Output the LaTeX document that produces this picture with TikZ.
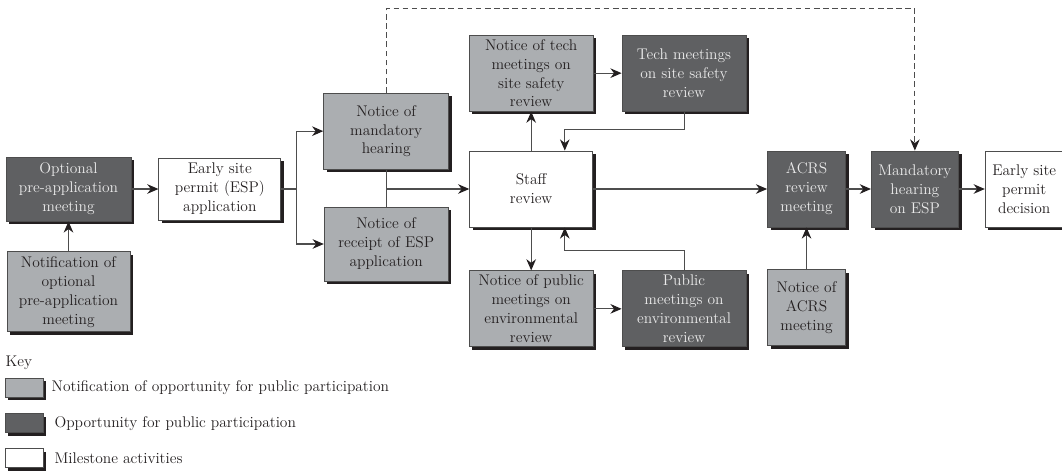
\documentclass[tikz,border=0pt]{standalone}
\usepackage{tikz}
\usepackage{xcolor}
\usetikzlibrary{arrows.meta,positioning,shadows}
\definecolor{nrcdark}{RGB}{95,96,98}
\definecolor{nrclight}{RGB}{171,174,177}
\definecolor{nrcline}{RGB}{77,77,77}
\definecolor{nrcshadow}{RGB}{35,31,32}
\newcommand{\boxfont}{\fontsize{11}{13.5}\selectfont}

\begin{document}
\begin{tikzpicture}[node distance=0.7cm,
        stage/.style={rectangle,draw=nrcline,line width=0.6pt,minimum width=3.1cm,minimum height=1.9cm,
          align=center,inner sep=1pt,font=\boxfont,text=nrcshadow,
          drop shadow={opacity=1,fill=nrcshadow,shadow xshift=0.08cm,shadow yshift=-0.08cm}},
        notice/.style={stage,fill=nrclight},
        meet/.style={stage,fill=nrcdark,text=white!92!black},
        milestone/.style={stage,fill=white},
        keybox/.style={minimum width=0.95cm,minimum height=0.475cm},
        keytext/.style={font=\boxfont,text=nrcshadow,inner sep=0pt},
        link/.style={draw=nrcline,line width=0.75pt},
        arrow/.style={link,-{Stealth[length=2.8mm,width=2.4mm,color=nrcshadow]}}]
        \useasboundingbox (0,0) rectangle (26.55,-11.775);
        \node[meet,minimum width=3.125cm,minimum height=1.6cm] (opt) at (1.7125,-4.725) {Optional\\pre-application\\meeting};
        \node[notice,minimum width=3.075cm,minimum height=2cm,below=0.75cm of opt] (notifopt) {Notification of\\optional\\pre-application\\meeting};
        \node[milestone,minimum width=3.05cm,minimum height=1.55cm,right=0.675cm of opt] (esp) {Early site\\permit (ESP)\\application};
        \node[notice,minimum width=3.125cm,above right=-0.3cm and 1.05cm of esp] (mandnote) {Notice of\\mandatory\\hearing};
        \node[notice,minimum height=1.85cm,below=0.925cm of mandnote] (receipt) {Notice of\\receipt of ESP\\application};
        \node[milestone,minimum width=3.075cm,right=4.7cm of esp] (staff) {Staff\\review};
        \node[notice,above=0.975cm of staff] (notetech) {Notice of tech\\meetings on\\site safety\\review};
        \node[meet,right=0.7cm of notetech] (techmeet) {Tech meetings\\on site safety\\review};
        \node[notice,below=1.075cm of staff] (notepub) {Notice of public\\meetings on\\environmental\\review};
        \node[meet,right=0.7cm of notepub] (pubmeet) {Public\\meetings on\\environmental\\review};
        \node[meet,minimum width=1.95cm,right=4.35cm of staff] (acrs) {ACRS\\review\\meeting};
        \node[meet,minimum width=2.175cm,right=0.625cm of acrs] (mandhear) {Mandatory\\hearing\\on ESP};
        \node[milestone,minimum width=1.95cm,right=0.65cm of mandhear] (decision) {Early site\\permit\\decision};
        \node[notice,minimum width=1.95cm,below=1.05cm of acrs] (noteacrs) {Notice of\\ACRS\\meeting};
        \coordinate[right=0.375cm of esp] (split);
        \draw[arrow] (notifopt) -- (opt);
        \draw[arrow] (opt) -- (esp);
        \draw[link] (esp) -- (split);
        \draw[arrow] (split) |- (mandnote);
        \draw[arrow] (split) |- (receipt);
        \draw[link] (mandnote) -- (receipt);
        \draw[arrow] (mandnote.south |- staff) -- (staff);
        \draw[arrow,dash pattern=on 4pt off 2.5pt] (mandnote.north) -- ++(0,2.1) -| (mandhear.north);
        \draw[arrow] (staff) -- (notetech);
        \draw[arrow] (notetech) -- (techmeet);
        \draw[arrow] (techmeet.south) -- ++(0,-0.45) -| ([xshift=0.84cm]staff.north);
        \draw[arrow] (staff) -- (notepub);
        \draw[arrow] (notepub) -- (pubmeet);
        \draw[arrow] (pubmeet.north) -- ++(0,0.5) -| ([xshift=0.84cm]staff.south);
        \draw[arrow] (staff) -- (acrs);
        \draw[arrow] (acrs) -- (mandhear);
        \draw[arrow] (mandhear) -- (decision);
        \draw[arrow] (noteacrs) -- (acrs);
        \node[notice,keybox] (key1) at (0.6,-9.6875) {};
        \node[meet,keybox,below=0.4cm of key1] (key2) {};
        \node[milestone,keybox,below=0.375cm of key2] (key3) {};
        \node[keytext,above right=0.2cm and -0.95cm of key1] (keyhead) {Key};
        \node[keytext,right=0.2cm of key1] (key1text) {Notification of opportunity for public participation};
        \node[keytext,right=0.27cm of key2] (key2text) {Opportunity for public participation};
        \node[keytext,right=0.27cm of key3] (key3text) {Milestone activities};
      \end{tikzpicture}
\end{document}
